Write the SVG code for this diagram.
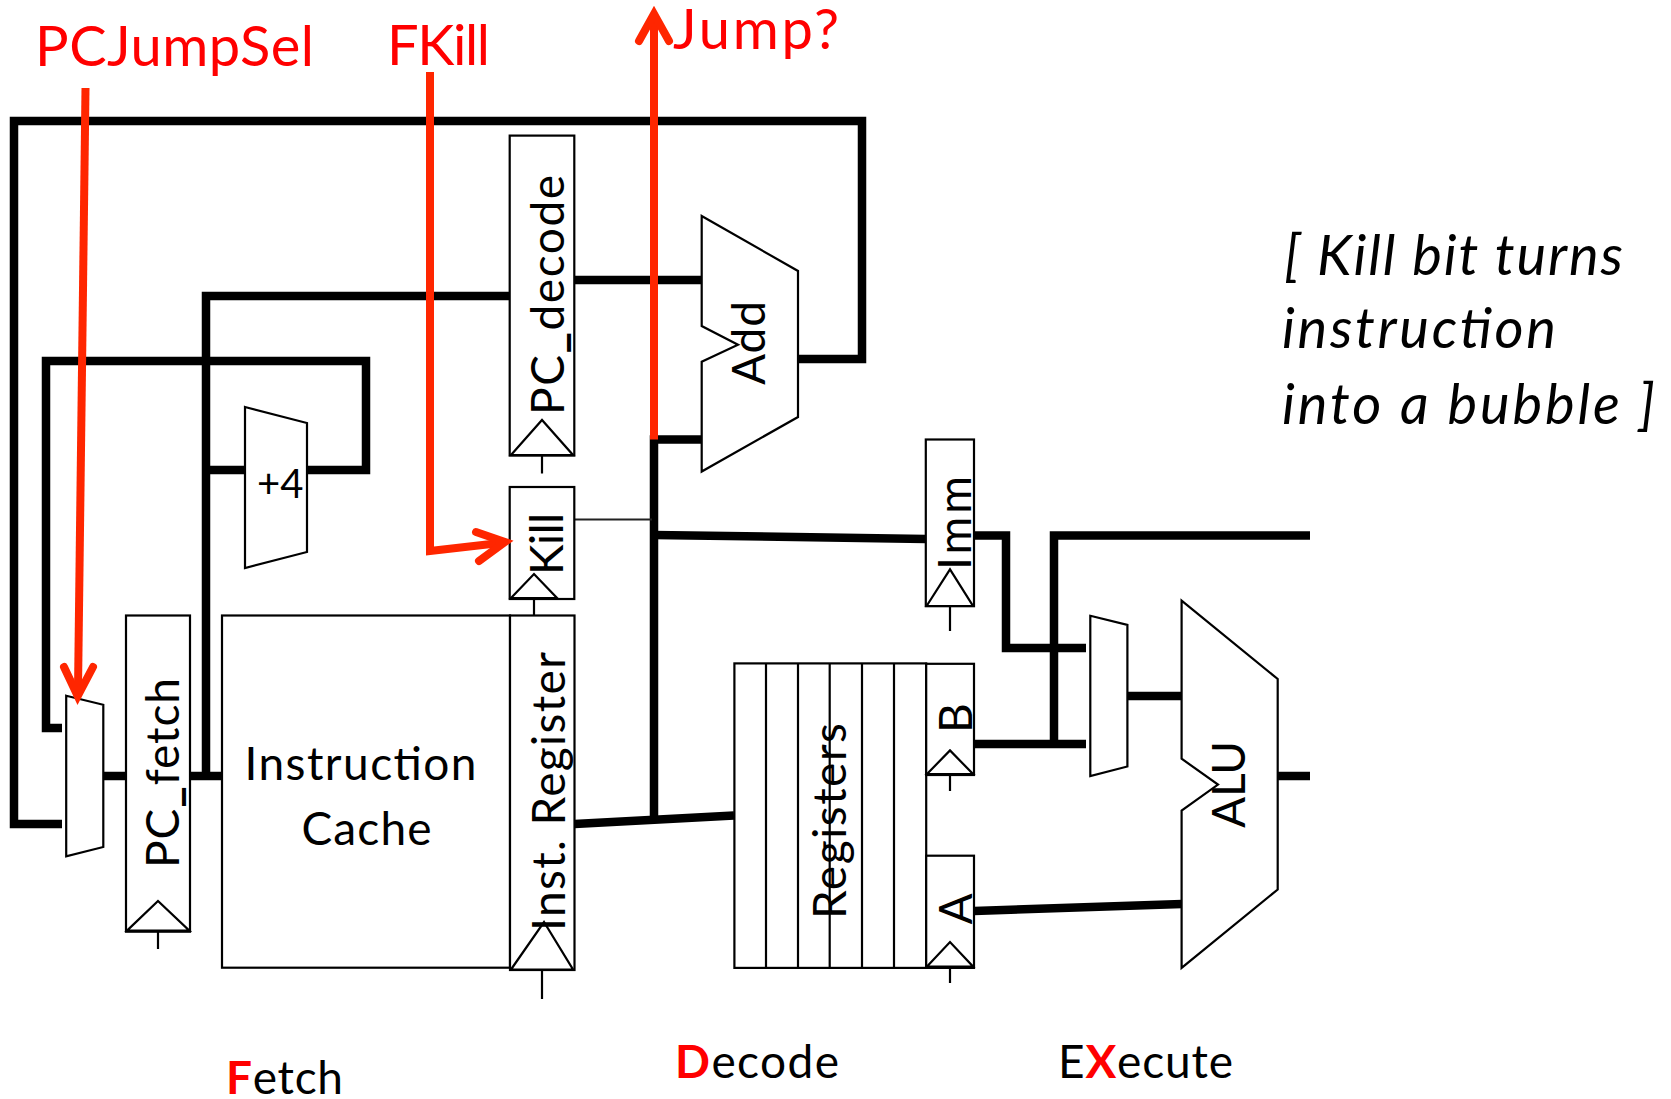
<svg xmlns="http://www.w3.org/2000/svg" width="1671" height="1099" viewBox="0 0 1671 1099">
<style>
text{font-family:"Lato","Liberation Sans",sans-serif;fill:#000;font-size:46px}
.s{fill:#fff;stroke:#000;stroke-width:2.2;stroke-linejoin:miter}
.n{fill:none;stroke:#000;stroke-width:2.2}
.w{fill:none;stroke:#000;stroke-width:8.5;stroke-linejoin:miter}
.t{fill:none;stroke:#222;stroke-width:1.8}
.r{fill:none;stroke:#ff2600;stroke-width:8;stroke-linejoin:miter}
.h{fill:none;stroke:#ff2600;stroke-width:8;stroke-linecap:round;stroke-linejoin:miter}
.red{fill:#ff0000;font-size:56px}
.b{fill:#ff0000;font-weight:700}
.u{font-weight:900}
.i{font-style:italic;font-size:56px}
</style>
<g id="connectors">
<polyline class="w" points="62,824 14,824 14,121 862,121 862,359 798,359"/>
<polyline class="w" points="62,728 46,728 46,361 366,361 366,470 206,470"/>
<polyline class="w" points="206,776 206,296 510,296"/>
<line class="w" x1="103" y1="776" x2="126" y2="776"/>
<line class="w" x1="190" y1="776" x2="222" y2="776"/>
<line class="w" x1="574" y1="280" x2="702" y2="280"/>
<polyline class="w" points="702,439.5 654,439.5 654,820"/>
<line class="w" x1="574.5" y1="824" x2="734" y2="815.5"/>
<line class="t" x1="574" y1="519.5" x2="652" y2="519.5"/>
<line class="w" x1="654" y1="535" x2="926" y2="539"/>
<polyline class="w" points="974,535.6 1006,535.6 1006,648 1086,648"/>
<polyline class="w" points="1310,535.6 1054,535.6 1054,744"/>
<line class="w" x1="974" y1="744" x2="1086" y2="744"/>
<line class="w" x1="1127" y1="696" x2="1182" y2="696"/>
<line class="w" x1="974" y1="911" x2="1182" y2="904"/>
<line class="w" x1="1278" y1="776" x2="1310" y2="776"/>
<line class="n" x1="158" y1="932" x2="158" y2="949"/>
<line class="n" x1="542" y1="971" x2="542" y2="999"/>
<line class="n" x1="534" y1="599" x2="534" y2="616"/>
<line class="n" x1="542" y1="456" x2="542" y2="473.5"/>
<line class="n" x1="950" y1="606" x2="950" y2="631"/>
<line class="n" x1="950" y1="775" x2="950" y2="791"/>
<line class="n" x1="950" y1="968" x2="950" y2="983"/>
</g>
<g id="mux-pc"><polygon class="s" points="66.2,695.7 103.3,704.8 103.3,847 66.2,856.4"/></g>
<g id="pc-fetch"><rect class="s" x="126" y="615.5" width="64" height="316.2"/><polygon class="s" points="127,930.6 158,901 189.4,930.6"/><text transform="translate(179,868) rotate(-90)" textLength="190">PC<tspan class="u">_</tspan>fetch</text></g>
<g id="plus4"><polygon class="s" points="245,407 307,423 307,552 245,568"/><text x="257" y="498" style="font-size:40px">+4</text></g>
<g id="icache"><rect class="s" x="222" y="615.5" width="288" height="352.2"/><text x="244.5" y="780.4" textLength="232">Instruction</text><text x="301.5" y="845" textLength="130">Cache</text></g>
<g id="inst-register"><rect class="s" x="510" y="615.5" width="64.5" height="354.5"/><polygon class="s" points="511,969.5 544,922 573,969.5"/><text transform="translate(564.5,931) rotate(-90)" textLength="279">Inst. Register</text></g>
<g id="kill"><rect class="s" x="509.7" y="487" width="64.6" height="112"/><polygon class="s" points="511,598 534,574 557,598"/><text transform="translate(563,575) rotate(-90)" textLength="62">Kill</text></g>
<g id="pc-decode"><rect class="s" x="509.7" y="135.6" width="64.6" height="320"/><polygon class="s" points="511,455 542,420 573,455"/><text transform="translate(564,415) rotate(-90)" textLength="240">PC<tspan class="u">_</tspan>decode</text></g>
<g id="adder"><polygon class="s" points="701.7,216 798,271 798,417 701.7,471.5 701.7,361.7 738,344.7 701.7,326"/><text transform="translate(765,385) rotate(-90)" textLength="84">Add</text></g>
<g id="imm"><rect class="s" x="925.8" y="439.5" width="48.2" height="166.7"/><polygon class="s" points="926.6,606 950,569.4 973,606"/><text transform="translate(971,570) rotate(-90)" textLength="94">Imm</text></g>
<g id="registers"><rect class="s" x="734.4" y="663.4" width="191.8" height="304.5"/><line class="n" x1="766" y1="663.4" x2="766" y2="967.9"/><line class="n" x1="798" y1="663.4" x2="798" y2="967.9"/><line class="n" x1="829.7" y1="663.4" x2="829.7" y2="967.9"/><line class="n" x1="862" y1="663.4" x2="862" y2="967.9"/><line class="n" x1="894" y1="663.4" x2="894" y2="967.9"/><text transform="translate(845.5,919) rotate(-90)" textLength="196">Registers</text></g>
<g id="reg-b"><rect class="s" x="926.2" y="663.8" width="47.8" height="111.2"/><polygon class="s" points="927,774 950,750.4 973,774"/><text transform="translate(971.6,733) rotate(-90)">B</text></g>
<g id="reg-a"><rect class="s" x="926.2" y="855.7" width="47.8" height="112.2"/><polygon class="s" points="927,966.5 950,942 973,966.5"/><text transform="translate(971.6,924.5) rotate(-90)">A</text></g>
<g id="mux-alu"><polygon class="s" points="1090.3,615.8 1127.4,624.9 1127.4,766.5 1090.3,776"/></g>
<g id="alu"><polygon class="s" points="1181.6,600.6 1277.7,679 1277.7,889.5 1181.6,967.9 1181.6,810.6 1218,784.6 1181.6,758.7"/><text transform="translate(1245,828) rotate(-90)" textLength="87">ALU</text></g>
<g id="control" >
<polyline class="r" points="85.5,88 78,690"/>
<polyline class="h" points="64,667 77.7,696 93,667"/>
<polyline class="r" points="430,72 430,551 500,543"/>
<polyline class="h" points="476,532 505,542 479,561"/>
<polyline class="r" points="654,439.5 654,18"/>
<polyline class="h" points="639,41 654,14 669,41"/>
</g>
<g id="labels">
<text class="red" x="35" y="66" textLength="279">PCJumpSel</text>
<text class="red" x="387" y="65" textLength="103">FKill</text>
<text class="red" x="673" y="49" textLength="166">Jump?</text>
<text x="226" y="1094" textLength="117"><tspan class="b">F</tspan>etch</text>
<text x="675" y="1078" textLength="164"><tspan class="b">D</tspan>ecode</text>
<text x="1058" y="1078" textLength="175">E<tspan class="b">X</tspan>ecute</text>
<text class="i" x="1284" y="275" textLength="339">[ Kill bit turns</text>
<text class="i" x="1282" y="348" textLength="274">instruction</text>
<text class="i" x="1282" y="424" textLength="373">into a bubble ]</text>
</g>
</svg>
